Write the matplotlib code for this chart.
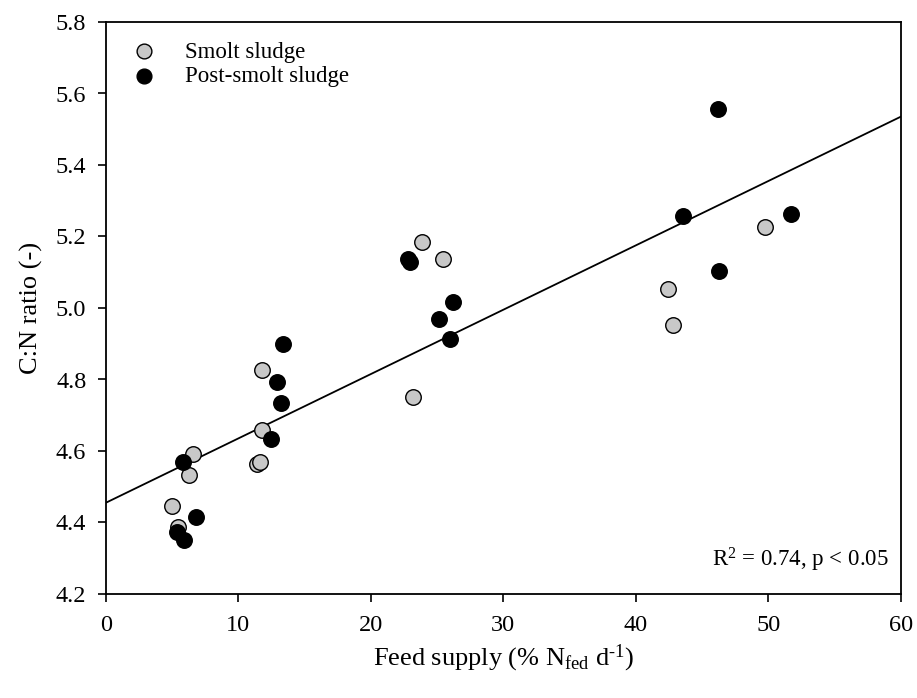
import matplotlib
matplotlib.use("Agg")
import matplotlib.pyplot as plt
import numpy as np

plt.rcParams['font.family'] = ['Liberation Serif', 'DejaVu Serif']
plt.rcParams['mathtext.fontset'] = 'custom'
plt.rcParams['mathtext.rm'] = 'Liberation Serif'
plt.rcParams['mathtext.it'] = 'Liberation Serif'

# Smolt sludge (grey)
smolt_x = [5.0, 5.43, 6.26, 6.61, 11.4, 11.65, 11.82, 11.8, 23.17, 23.85, 25.46, 42.46, 42.84, 49.74]
smolt_y = [4.447, 4.388, 4.533, 4.592, 4.564, 4.568, 4.659, 4.827, 4.751, 5.185, 5.136, 5.052, 4.952, 5.227]

# Post-smolt sludge (black)
post_x = [5.41, 5.93, 5.81, 6.79, 12.48, 12.9, 13.23, 13.38, 22.8, 23.0, 25.13, 25.98, 26.2, 43.55, 46.19, 46.31, 51.7]
post_y = [4.373, 4.351, 4.570, 4.416, 4.633, 4.794, 4.733, 4.899, 5.137, 5.130, 4.968, 4.912, 5.016, 5.257, 5.556, 5.104, 5.263]

# Regression line
fit_intercept = 4.455
fit_slope = 0.0180
fit_x = [0, 60]

x_ticks = [0, 10, 20, 30, 40, 50, 60]
y_ticks = [4.2, 4.4, 4.6, 4.8, 5.0, 5.2, 5.4, 5.6, 5.8]

fig = plt.figure(figsize=(9.17, 6.98), dpi=100)
ax = fig.add_axes([105.7/917, 1-594/698, (900.7-105.7)/917, (594-22)/698])

fx = np.array(fit_x, dtype=float)
ax.plot(fx, fit_intercept + fit_slope*fx, color='black', lw=1.3, zorder=1)

ax.scatter(smolt_x, smolt_y, s=125, facecolor='#c8c8c8', edgecolor='black', linewidths=1.0, zorder=3, label='Smolt sludge')
ax.scatter(post_x, post_y, s=125, facecolor='black', edgecolor='black', linewidths=1.0, zorder=3, label='Post-smolt sludge')

ax.set_xlim(0, 60)
ax.set_ylim(4.2, 5.8)
ax.set_xticks(x_ticks)
ax.set_yticks(y_ticks)
ax.set_yticklabels([f"{v:.1f}" for v in y_ticks])
ax.tick_params(direction='out', length=6, width=1.2, labelsize=17.5)
ax.tick_params(axis='x', pad=9)
ax.tick_params(axis='y', pad=8)
for sp in ax.spines.values():
    sp.set_linewidth(1.3)

ax.set_xlabel(r'Feed supply (% N$_{\mathrm{fed}}$ d$^{\text{-}1}$)', fontsize=19, labelpad=5)
ax.set_ylabel('C:N ratio (-)', fontsize=19, labelpad=9)

leg = ax.legend(loc='upper left', bbox_to_anchor=(0.002, 0.99), frameon=False, fontsize=16.5,
                handletextpad=0.8, labelspacing=0.15, markerscale=0.95, borderaxespad=0.2)

ax.text(0.985, 0.059, r'R$^2$ = 0.74, p < 0.05', transform=ax.transAxes, ha='right', va='center', fontsize=16.5)

fig.savefig('out.png', dpi=100)
